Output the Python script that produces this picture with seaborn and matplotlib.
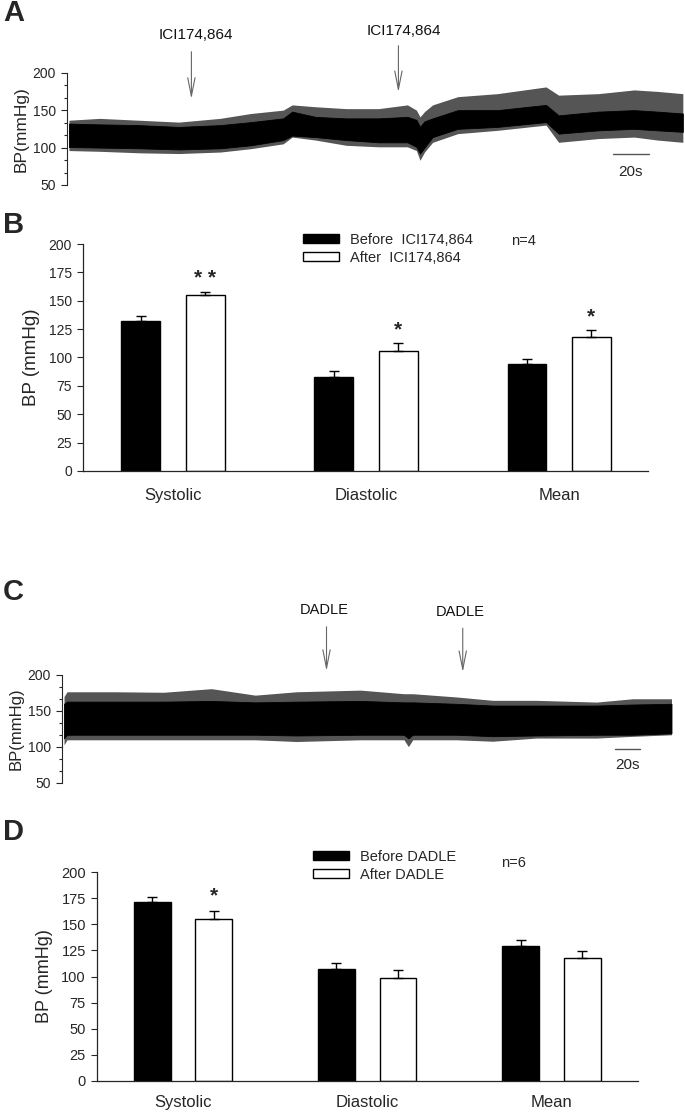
import numpy as np
import pandas as pd
import seaborn as sns
import matplotlib.pyplot as plt
from matplotlib.ticker import MultipleLocator

# ---------------- 数据 ----------------
categories = ['Systolic', 'Diastolic', 'Mean']

# B: ICI174,864 (n=4), 均值与 SEM
ici_before = [132, 83, 94]
ici_before_sem = [5, 5, 5]
ici_after = [155, 106, 118]
ici_after_sem = [3, 7, 6]
ici_marks = ['* *', '*', '*']

# D: DADLE (n=6)
dadle_before = [171, 107, 129]
dadle_before_sem = [5, 6, 6]
dadle_after = [155, 99, 118]
dadle_after_sem = [7.5, 7, 6.5]
dadle_marks = ['*', '', '']

# A: 血压记录包络 (时间 s, mmHg)
trace_a_t = [0, 17, 39, 61, 84, 101, 119, 124, 137, 154, 172, 188, 193, 195,
             197.5, 202, 216, 238, 265, 272, 294, 314, 327, 341]
trace_a_upper = [136.5, 139, 136.5, 134, 139, 145.5, 150, 157, 154.5, 152, 152, 157,
                 150, 141, 148, 157, 168, 172, 181, 170, 172, 177, 175, 172]
trace_a_core_hi = [132, 131, 130, 127.6, 130, 134, 139, 148, 141, 139, 139, 141,
                   137, 127.6, 135, 139, 150, 150, 157, 143, 148, 150, 148, 145.5]
trace_a_core_lo = [100.7, 100, 99, 97.5, 99, 103, 110, 116, 114, 110, 107, 107,
                   101, 92, 100, 114, 125, 127.6, 134, 118.6, 123, 125, 123, 121]
trace_a_lower = [96, 95, 93, 92, 94, 98.5, 105, 114, 110, 103, 101, 101,
                 96, 83, 94, 107, 118.6, 123, 130, 107, 112, 114, 110, 107]
ici_times = [68, 183]

# C: 血压记录包络
trace_c_t = [0, 2.4, 41, 79.5, 118, 153, 186, 237, 272, 275.5, 279, 314, 343,
             378, 426, 455, 486]
trace_c_upper = [170, 176.7, 176.7, 176, 181, 172, 176.7, 179, 174, 174, 174,
                 169.5, 164.8, 164.8, 162.4, 167, 167]
trace_c_core_hi = [160, 163, 163, 163, 164, 162, 163, 164, 162, 162, 162,
                   160, 157.6, 157.6, 157.6, 159, 160]
trace_c_core_lo = [112, 117, 117, 117, 117, 117, 116, 117, 117, 112, 117,
                   117, 115, 116, 117, 117, 119]
trace_c_lower = [103, 110, 110, 110, 110, 110, 107.6, 110, 110, 100.5, 110,
                 110, 108, 112.4, 112.4, 114.8, 117]
dadle_times = [210, 319]

scalebar_s = 20

# ---------------- 样式 ----------------
sns.set_theme(style='ticks')
plt.rcParams['font.family'] = ['Liberation Sans', 'DejaVu Sans']

W, H = 685, 1112
fig = plt.figure(figsize=(W / 100, H / 100), dpi=100)


def box(x0, y0, x1, y1):
    # 像素坐标(左上原点) -> figure 坐标
    return [x0 / W, 1 - y1 / H, (x1 - x0) / W, (y1 - y0) / H]


def trace_axes(ax, t, upper, core_hi, core_lo, lower, xlim, ylab_size):
    # 外包络(心搏尖峰区)用深灰, 内核实心黑
    ax.fill_between(t, lower, upper, color='#555555', linewidth=0)
    ax.fill_between(t, core_lo, core_hi, color='black', linewidth=0.6)
    ax.set_xlim(*xlim)
    ax.set_ylim(50, 200)
    ax.yaxis.set_major_locator(MultipleLocator(50))
    ax.yaxis.set_minor_locator(MultipleLocator(50 / 3))
    ax.tick_params(axis='y', which='major', length=4, width=0.8, labelsize=10, pad=4)
    ax.tick_params(axis='y', which='minor', length=2.5, width=0.8)
    ax.set_xticks([])
    for s in ['top', 'right', 'bottom']:
        ax.spines[s].set_visible(False)
    ax.spines['left'].set_linewidth(0.8)
    ax.set_ylabel('BP(mmHg)', fontsize=ylab_size, labelpad=3)


def drug_arrow(ax, t, y_tip, y_tail, y_text, label, size, dx=0):
    ax.annotate('', xy=(t, y_tip), xytext=(t, y_tail),
                arrowprops=dict(arrowstyle='->,head_length=1.1,head_width=0.22',
                                color='#666666', lw=0.8, shrinkA=0, shrinkB=0),
                annotation_clip=False)
    ax.text(t + dx, y_text, label, ha='center', va='center', fontsize=size,
            color='#111111', clip_on=False)


def bar_axes(ax, before, before_sem, after, after_sem, labels, marks, xlim, pad,
             mark_off, tick_size, ylab_size):
    df = pd.DataFrame({'category': categories * 2,
                       'condition': [labels[0]] * 3 + [labels[1]] * 3,
                       'bp': before + after})
    sns.barplot(data=df, x='category', y='bp', hue='condition',
                palette=['black', 'white'], edgecolor='black', linewidth=1,
                width=0.668, gap=0.4, errorbar=None, ax=ax, legend=True)
    for cont, sem in zip(ax.containers, [before_sem, after_sem]):
        xs = [p.get_x() + p.get_width() / 2 for p in cont]
        hs = [p.get_height() for p in cont]
        ax.errorbar(xs, hs, yerr=[np.zeros(len(sem)), sem], fmt='none',
                    ecolor='black', elinewidth=1, capsize=3.5, capthick=1)
    for p, v, e, m in zip(ax.containers[1], after, after_sem, marks):
        if m:
            ax.text(p.get_x() + p.get_width() / 2, v + e + mark_off, m, ha='center',
                    va='bottom', fontsize=15, fontweight='bold')
    ax.set_xlim(*xlim)
    ax.set_ylim(0, 200)
    ax.yaxis.set_major_locator(MultipleLocator(25))
    ax.tick_params(axis='y', length=4, width=0.8, labelsize=tick_size, pad=4)
    ax.tick_params(axis='x', length=0, labelsize=12, pad=pad)
    ax.set_xlabel('')
    ax.set_ylabel('BP (mmHg)', fontsize=ylab_size, labelpad=6)
    sns.despine(ax=ax)
    for s in ['left', 'bottom']:
        ax.spines[s].set_linewidth(0.9)
    return ax.get_legend_handles_labels()


# ---------------- A ----------------
ax_a = fig.add_axes(box(67, 72.7, 685, 185))
trace_axes(ax_a, trace_a_t, trace_a_upper, trace_a_core_hi, trace_a_core_lo,
           trace_a_lower, (-1.1, 342.2), 12.5)
drug_arrow(ax_a, ici_times[0], 165, 228, 251, 'ICI174,864', 11, dx=2.5)
drug_arrow(ax_a, ici_times[1], 174, 236, 256, 'ICI174,864', 11, dx=3)
ax_a.plot([302, 302 + scalebar_s], [91.6, 91.6], color='#555555', lw=1)
ax_a.text(302 + scalebar_s / 2, 67, f'{scalebar_s}s', ha='center', va='center', fontsize=11)

# ---------------- B ----------------
ax_b = fig.add_axes(box(83, 244, 648, 471))
h, l = bar_axes(ax_b, ici_before, ici_before_sem, ici_after, ici_after_sem,
                ['Before  ICI174,864', 'After  ICI174,864'], ici_marks,
                (-0.466, 2.46), 12, 3, 10, 13.5)
ax_b.legend(h, l, loc='upper left', bbox_to_anchor=(303 / W, 1 - 233 / H),
            bbox_transform=fig.transFigure, frameon=False, fontsize=10.5,
            handlelength=2.5, handleheight=0.6, labelspacing=0.25,
            handletextpad=0.7, borderpad=0, borderaxespad=0)
fig.text(511 / W, 1 - 241 / H, 'n=4', ha='left', va='center', fontsize=10.5)

# ---------------- C ----------------
ax_c = fig.add_axes(box(62, 675, 685, 783))
trace_axes(ax_c, trace_c_t, trace_c_upper, trace_c_core_hi, trace_c_core_lo,
           trace_c_lower, (-1.6, 496.8), 12)
drug_arrow(ax_c, dadle_times[0], 205.6, 267, 290, 'DADLE', 10.5, dx=-2)
drug_arrow(ax_c, dadle_times[1], 204, 265, 287.5, 'DADLE', 10.5, dx=-2)
ax_c.plot([441, 441 + scalebar_s], [97, 97], color='#555555', lw=1)
ax_c.text(441 + scalebar_s / 2, 75, f'{scalebar_s}s', ha='center', va='center', fontsize=11)

# ---------------- D ----------------
ax_d = fig.add_axes(box(97, 872, 638, 1081))
h, l = bar_axes(ax_d, dadle_before, dadle_before_sem, dadle_after, dadle_after_sem,
                ['Before DADLE', 'After DADLE'], dadle_marks, (-0.467, 2.47), 10,
                6, 10.5, 13)
ax_d.legend(h, l, loc='upper left', bbox_to_anchor=(313 / W, 1 - 850 / H),
            bbox_transform=fig.transFigure, frameon=False, fontsize=10.5,
            handlelength=2.5, handleheight=0.6, labelspacing=0.25,
            handletextpad=0.7, borderpad=0, borderaxespad=0)
fig.text(501 / W, 1 - 863 / H, 'n=6', ha='left', va='center', fontsize=10.5)

# 面板字母
for letter, y in zip(['A', 'B', 'C', 'D'], [-1, 211, 578, 818]):
    fig.text(3 / W, 1 - y / H, letter, ha='left', va='top', fontsize=21,
             fontweight='bold')

fig.savefig('out.png', dpi=100)
